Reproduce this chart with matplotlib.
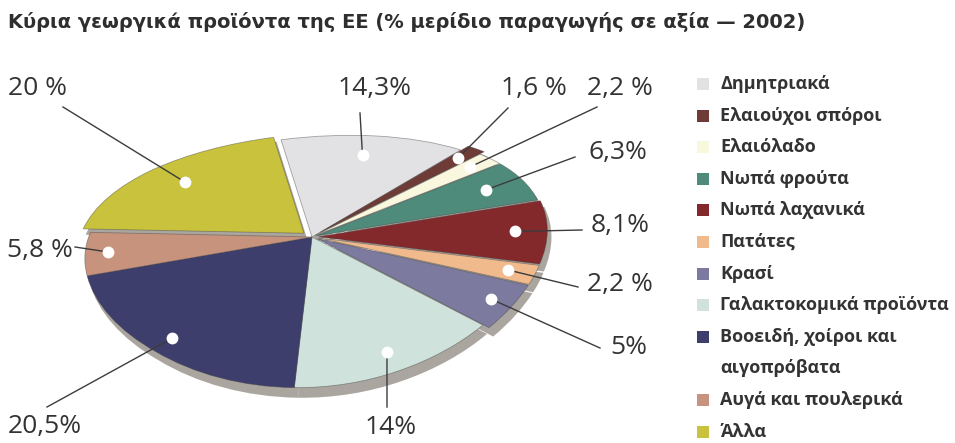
import matplotlib
matplotlib.use('Agg')
import matplotlib.pyplot as plt
from matplotlib.patches import Rectangle
from matplotlib.transforms import Transform
import numpy as np

# data
categories = ['Δημητριακά', 'Ελαιούχοι σπόροι', 'Ελαιόλαδο', 'Νωπά φρούτα',
              'Νωπά λαχανικά', 'Πατάτες', 'Κρασί', 'Γαλακτοκομικά προϊόντα',
              'Βοοειδή, χοίροι και\nαιγοπρόβατα', 'Αυγά και πουλερικά', 'Άλλα']
shares = [14.3, 1.6, 2.2, 6.3, 8.1, 2.2, 5.0, 14.0, 20.5, 5.8, 20.0]
share_labels = ['14,3%', '1,6 %', '2,2 %', '6,3%', '8,1%', '2,2 %', '5%',
                '14%', '20,5%', '5,8 %', '20 %']
title = 'Κύρια γεωργικά προϊόντα της ΕΕ (% μερίδιο παραγωγής σε αξία — 2002)'

colors = ['#e2e2e4', '#6e3b36', '#faf7df', '#4f8b7b', '#84292b', '#f1ba8c',
          '#7d7aa0', '#cfe3dc', '#3e3e6c', '#c8937d', '#c9c23c']
explode = [0, 0.05, 0.02, 0.02, 0.03, 0.03, 0.03, 0, 0, 0, 0.05]

# layout (pixels)
W, H = 955, 443
cx, cy, a, b = 312, 237, 228, 120
tilt, narrow, rot = 0.2, 0.06, np.deg2rad(5)
dot_r = [0.78, 0.88, 0.88, 0.82, 0.86, 0.88, 0.9, 0.88, 0.9, 0.9, 0.78]
text_pos = [(375, 88), (534, 88), (620, 88), (618, 153), (620, 225), (620, 285),
            (629, 348), (391, 427), (45, 427), (40, 250), (37, 88)]
line_start = [(360, 113), (508, 108), (597, 107), (575, 157), (582, 230),
              (578, 287), (600, 348), (387, 407), (47, 407), (75, 247), (63, 107)]


# tilted, slightly rotated disc: unit pie -> pixel coordinates
class Tilt(Transform):
    input_dims = output_dims = 2

    def transform_non_affine(self, values):
        v = np.asarray(values, dtype=float)
        x, y = v[:, 0], v[:, 1]
        dx = a * x * (1 - narrow * y)
        dy = b * y / (1 + tilt * y)
        rx = dx * np.cos(rot) - dy * np.sin(rot)
        ry = dx * np.sin(rot) + dy * np.cos(rot)
        return np.column_stack([cx + rx, cy - ry])


fig = plt.figure(figsize=(W / 100, H / 100), dpi=100)
fig.patch.set_facecolor('white')
ax = fig.add_axes([0, 0, 1, 1])

tilt_tr = Tilt()

# shadow / thickness
sh, _ = ax.pie(shares, explode=explode, startangle=96, counterclock=False,
               colors=['#7d766c'] * len(shares), center=(0.012, -0.055),
               wedgeprops=dict(linewidth=0))
for w in sh:
    w.set_alpha(0.65)
    w.set_transform(tilt_tr + ax.transData)
    w.set_clip_on(False)

wedges, _ = ax.pie(shares, explode=explode, startangle=96, counterclock=False,
                   colors=colors,
                   wedgeprops=dict(linewidth=0.6, edgecolor=(0.25, 0.25, 0.25, 0.45)))
for w in wedges:
    w.set_transform(tilt_tr + ax.transData)
    w.set_clip_on(False)

ax.set_aspect('auto')
ax.set_xlim(0, W)
ax.set_ylim(H, 0)
ax.axis('off')

# dots + leader lines + labels
for i, w in enumerate(wedges):
    ang = np.deg2rad((w.theta1 + w.theta2) / 2)
    ux = w.center[0] + dot_r[i] * np.cos(ang)
    uy = w.center[1] + dot_r[i] * np.sin(ang)
    px, py = tilt_tr.transform([[ux, uy]])[0]
    ax.plot([line_start[i][0], px], [line_start[i][1], py], color='#3c3c3c',
            lw=1.0, zorder=4, clip_on=False)
    ax.plot(px, py, 'o', color='white', ms=8.5, mec='none', zorder=5, clip_on=False)
    ax.text(text_pos[i][0], text_pos[i][1], share_labels[i], ha='center',
            va='center', fontsize=19, family='Open Sans', color='#333333')

# title
fig.text(8 / W, 1 - 22 / H, title, ha='left', va='center', fontsize=14,
         fontweight='bold', family='DejaVu Sans', color='#2e2e2e')

# legend
row = 0
for i, cat in enumerate(categories):
    y = 84 + 31.6 * row
    ax.add_patch(Rectangle((697, y - 6), 12, 12, facecolor=colors[i],
                           edgecolor='none'))
    for k, line in enumerate(cat.split('\n')):
        ax.text(720, y + 31.6 * k, line, ha='left', va='center', fontsize=13,
                fontweight='bold', family='Open Sans', color='#333333')
    row += len(cat.split('\n'))

fig.savefig('out.png', dpi=100, facecolor='white')
